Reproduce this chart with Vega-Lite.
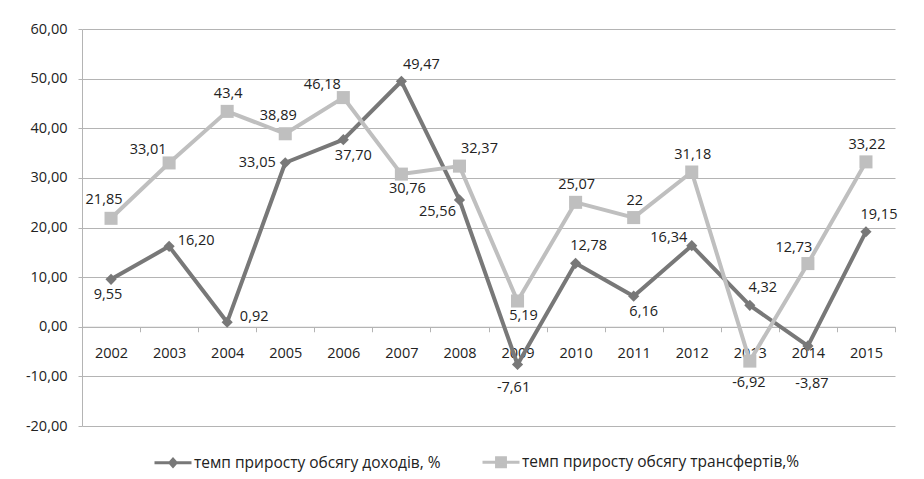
{
  "$schema": "https://vega.github.io/schema/vega-lite/v6.json",
  "width": 813,
  "height": 397,
  "autosize": {"type": "none"},
  "padding": {"left": 82, "top": 29, "right": 29, "bottom": 53},
  "background": "white",
  "config": {
    "view": {"stroke": null},
    "locale": {"number": {"decimal": ",", "thousands": " ", "grouping": [3], "currency": ["", ""], "minus": "-"}},
    "text": {"font": "Open Sans", "fontSize": 14.5, "fill": "#222222", "baseline": "middle", "align": "center"},
    "axis": {"labelFont": "Open Sans", "labelFontSize": 14.5, "labelColor": "#222222", "domainColor": "#b4b4b4", "tickColor": "#b4b4b4", "gridColor": "#b4b4b4", "title": null}
  },
  "data": {"values": [
    {"year": "2002", "series": "темп приросту обсягу доходів, %", "value": 9.55},
    {"year": "2003", "series": "темп приросту обсягу доходів, %", "value": 16.20},
    {"year": "2004", "series": "темп приросту обсягу доходів, %", "value": 0.92},
    {"year": "2005", "series": "темп приросту обсягу доходів, %", "value": 33.05},
    {"year": "2006", "series": "темп приросту обсягу доходів, %", "value": 37.70},
    {"year": "2007", "series": "темп приросту обсягу доходів, %", "value": 49.47},
    {"year": "2008", "series": "темп приросту обсягу доходів, %", "value": 25.56},
    {"year": "2009", "series": "темп приросту обсягу доходів, %", "value": -7.61},
    {"year": "2010", "series": "темп приросту обсягу доходів, %", "value": 12.78},
    {"year": "2011", "series": "темп приросту обсягу доходів, %", "value": 6.16},
    {"year": "2012", "series": "темп приросту обсягу доходів, %", "value": 16.34},
    {"year": "2013", "series": "темп приросту обсягу доходів, %", "value": 4.32},
    {"year": "2014", "series": "темп приросту обсягу доходів, %", "value": -3.87},
    {"year": "2015", "series": "темп приросту обсягу доходів, %", "value": 19.15},
    {"year": "2002", "series": "темп приросту обсягу трансфертів,%", "value": 21.85},
    {"year": "2003", "series": "темп приросту обсягу трансфертів,%", "value": 33.01},
    {"year": "2004", "series": "темп приросту обсягу трансфертів,%", "value": 43.4},
    {"year": "2005", "series": "темп приросту обсягу трансфертів,%", "value": 38.89},
    {"year": "2006", "series": "темп приросту обсягу трансфертів,%", "value": 46.18},
    {"year": "2007", "series": "темп приросту обсягу трансфертів,%", "value": 30.76},
    {"year": "2008", "series": "темп приросту обсягу трансфертів,%", "value": 32.37},
    {"year": "2009", "series": "темп приросту обсягу трансфертів,%", "value": 5.19},
    {"year": "2010", "series": "темп приросту обсягу трансфертів,%", "value": 25.07},
    {"year": "2011", "series": "темп приросту обсягу трансфертів,%", "value": 22},
    {"year": "2012", "series": "темп приросту обсягу трансфертів,%", "value": 31.18},
    {"year": "2013", "series": "темп приросту обсягу трансфертів,%", "value": -6.92},
    {"year": "2014", "series": "темп приросту обсягу трансфертів,%", "value": 12.73},
    {"year": "2015", "series": "темп приросту обсягу трансфертів,%", "value": 33.22}
  ]},
  "encoding": {
    "x": {"field": "year", "type": "ordinal", "scale": {"type": "band", "paddingInner": 0, "paddingOuter": 0},
      "axis": {"orient": "bottom", "offset": -99.25, "labelAngle": 0, "tickBand": "extent", "tickSize": 5, "labelPadding": 15, "grid": false, "domainWidth": 1}},
    "y": {"field": "value", "type": "quantitative", "scale": {"domain": [-20, 60], "nice": false, "zero": false},
      "axis": {"values": [-20, -10, 0, 10, 20, 30, 40, 50, 60], "format": ".2f", "tickSize": 4, "labelPadding": 11, "grid": true, "gridWidth": 1}}
  },
  "layer": [
    {
      "mark": {"type": "line", "strokeWidth": 4, "strokeJoin": "round"},
      "encoding": {
        "color": {"field": "series", "type": "nominal",
          "scale": {"domain": ["темп приросту обсягу доходів, %", "темп приросту обсягу трансфертів,%"], "range": ["#787878", "#bfbfbf"]},
          "legend": {"title": null, "orient": "none", "legendX": 71, "legendY": 413, "direction": "horizontal", "symbolSize": 1369, "symbolStrokeWidth": 3, "symbolType": "M-1,0H1M-0.17,0L0,-0.19L0.17,0L0,0.19Z",
            "labelFont": "Open Sans", "labelFontSize": 15.5, "labelColor": "#222222", "labelOffset": 1, "labelLimit": 500, "columnPadding": 35,
            "encode": {"symbols": {"update": {
              "shape": {"signal": "datum.index === 0 ? 'M-1,0H1M-0.17,0L0,-0.19L0.17,0L0,0.19Z' : 'M-1,0H1M-0.24,-0.24H0.24V0.24H-0.24Z'"},
              "fill": {"signal": "scale('color', datum.value)"},
              "stroke": {"signal": "scale('color', datum.value)"},
              "strokeWidth": {"value": 3}
            }}}
          }
        }
      }
    },
    {
      "transform": [{"filter": {"field": "series", "equal": "темп приросту обсягу доходів, %"}}],
      "mark": {"type": "point", "filled": true, "opacity": 1, "size": 125, "shape": "diamond", "color": "#787878"}
    },
    {
      "transform": [{"filter": {"field": "series", "equal": "темп приросту обсягу трансфертів,%"}}],
      "mark": {"type": "point", "filled": true, "opacity": 1, "size": 170, "shape": "square", "color": "#bfbfbf"}
    },
    {"transform": [{"filter": {"and": [{"field": "series", "equal": "темп приросту обсягу доходів, %"}, {"field": "year", "oneOf": ["2002"]}]}}],
     "mark": {"type": "text", "dx": -3, "dy": 16}, "encoding": {"text": {"field": "value", "type": "quantitative", "format": ".2f"}}},
    {"transform": [{"filter": {"and": [{"field": "series", "equal": "темп приросту обсягу доходів, %"}, {"field": "year", "oneOf": ["2006", "2011"]}]}}],
     "mark": {"type": "text", "dx": 10, "dy": 16}, "encoding": {"text": {"field": "value", "type": "quantitative", "format": ".2f"}}},
    {"transform": [{"filter": {"and": [{"field": "series", "equal": "темп приросту обсягу доходів, %"}, {"field": "year", "oneOf": ["2003", "2004"]}]}}],
     "mark": {"type": "text", "dx": 27, "dy": -5}, "encoding": {"text": {"field": "value", "type": "quantitative", "format": ".2f"}}},
    {"transform": [{"filter": {"and": [{"field": "series", "equal": "темп приросту обсягу доходів, %"}, {"field": "year", "oneOf": ["2005"]}]}}],
     "mark": {"type": "text", "dx": -28, "dy": 0}, "encoding": {"text": {"field": "value", "type": "quantitative", "format": ".2f"}}},
    {"transform": [{"filter": {"and": [{"field": "series", "equal": "темп приросту обсягу доходів, %"}, {"field": "year", "oneOf": ["2007"]}]}}],
     "mark": {"type": "text", "dx": 20, "dy": -16}, "encoding": {"text": {"field": "value", "type": "quantitative", "format": ".2f"}}},
    {"transform": [{"filter": {"and": [{"field": "series", "equal": "темп приросту обсягу доходів, %"}, {"field": "year", "oneOf": ["2008"]}]}}],
     "mark": {"type": "text", "dx": -22, "dy": 12}, "encoding": {"text": {"field": "value", "type": "quantitative", "format": ".2f"}}},
    {"transform": [{"filter": {"and": [{"field": "series", "equal": "темп приросту обсягу доходів, %"}, {"field": "year", "oneOf": ["2009"]}]}}],
     "mark": {"type": "text", "dx": -4, "dy": 23}, "encoding": {"text": {"field": "value", "type": "quantitative", "format": ".2f"}}},
    {"transform": [{"filter": {"and": [{"field": "series", "equal": "темп приросту обсягу доходів, %"}, {"field": "year", "oneOf": ["2010", "2013", "2015"]}]}}],
     "mark": {"type": "text", "dx": 13, "dy": -17}, "encoding": {"text": {"field": "value", "type": "quantitative", "format": ".2f"}}},
    {"transform": [{"filter": {"and": [{"field": "series", "equal": "темп приросту обсягу доходів, %"}, {"field": "year", "oneOf": ["2012"]}]}}],
     "mark": {"type": "text", "dx": -23, "dy": -8}, "encoding": {"text": {"field": "value", "type": "quantitative", "format": ".2f"}}},
    {"transform": [{"filter": {"and": [{"field": "series", "equal": "темп приросту обсягу доходів, %"}, {"field": "year", "oneOf": ["2014"]}]}}],
     "mark": {"type": "text", "dx": 4, "dy": 38}, "encoding": {"text": {"field": "value", "type": "quantitative", "format": ".2f"}}},
    {"transform": [{"filter": {"and": [{"field": "series", "equal": "темп приросту обсягу трансфертів,%"}, {"field": "year", "oneOf": ["2004", "2010", "2011", "2012", "2015"]}]}}],
     "mark": {"type": "text", "dx": 1, "dy": -17}, "encoding": {"text": {"field": "value", "type": "quantitative", "format": ".2~f"}}},
    {"transform": [{"filter": {"and": [{"field": "series", "equal": "темп приросту обсягу трансфертів,%"}, {"field": "year", "oneOf": ["2002", "2005"]}]}}],
     "mark": {"type": "text", "dx": -7, "dy": -18}, "encoding": {"text": {"field": "value", "type": "quantitative", "format": ".2~f"}}},
    {"transform": [{"filter": {"and": [{"field": "series", "equal": "темп приросту обсягу трансфертів,%"}, {"field": "year", "oneOf": ["2003", "2006"]}]}}],
     "mark": {"type": "text", "dx": -21, "dy": -13}, "encoding": {"text": {"field": "value", "type": "quantitative", "format": ".2~f"}}},
    {"transform": [{"filter": {"and": [{"field": "series", "equal": "темп приросту обсягу трансфертів,%"}, {"field": "year", "oneOf": ["2014"]}]}}],
     "mark": {"type": "text", "dx": -14, "dy": -16}, "encoding": {"text": {"field": "value", "type": "quantitative", "format": ".2~f"}}},
    {"transform": [{"filter": {"and": [{"field": "series", "equal": "темп приросту обсягу трансфертів,%"}, {"field": "year", "oneOf": ["2008"]}]}}],
     "mark": {"type": "text", "dx": 20, "dy": -17}, "encoding": {"text": {"field": "value", "type": "quantitative", "format": ".2~f"}}},
    {"transform": [{"filter": {"and": [{"field": "series", "equal": "темп приросту обсягу трансфертів,%"}, {"field": "year", "oneOf": ["2007", "2009"]}]}}],
     "mark": {"type": "text", "dx": 6, "dy": 15}, "encoding": {"text": {"field": "value", "type": "quantitative", "format": ".2~f"}}},
    {"transform": [{"filter": {"and": [{"field": "series", "equal": "темп приросту обсягу трансфертів,%"}, {"field": "year", "oneOf": ["2013"]}]}}],
     "mark": {"type": "text", "dx": -1, "dy": 22}, "encoding": {"text": {"field": "value", "type": "quantitative", "format": ".2~f"}}}
  ]
}
